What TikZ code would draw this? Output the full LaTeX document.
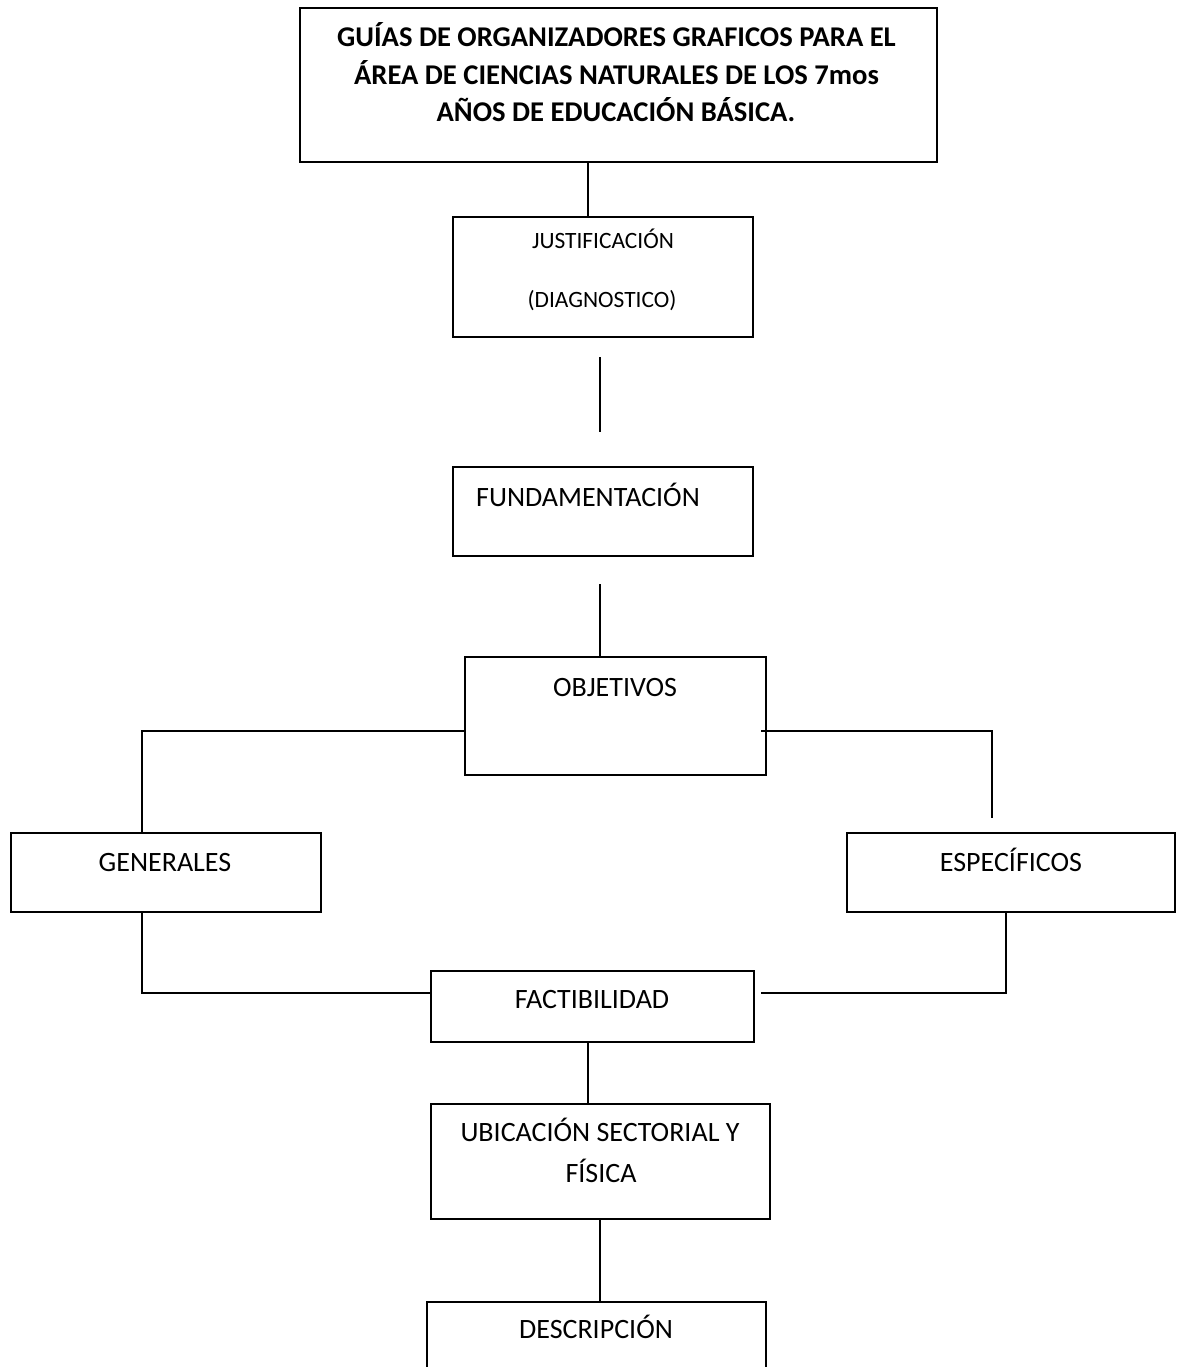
\documentclass[tikz,border=0pt]{standalone}
\usepackage{fontspec}
\setmainfont{Carlito}
\usetikzlibrary{fit}
\begin{document}
\begin{tikzpicture}[x=0.5pt,y=-0.5pt,
  box/.style={draw, line width=1pt, inner sep=0pt, fit={#1}},
  wire/.style={line width=1pt},
  lbl/.style={font=\fontsize{14}{20}\selectfont, inner sep=0pt, anchor=base},
  small/.style={font=\fontsize{11.7}{14}\selectfont, inner sep=0pt, anchor=base},
  head/.style={font=\fontsize{14.3}{20}\selectfont\bfseries, inner sep=0pt, anchor=base}]
\useasboundingbox (0,0) rectangle (1183,1367);
\clip (0,0) rectangle (1183,1367);

% boxes
\node[box={(300,8) (937,162)}]    (title) {};
\node[box={(453,217) (753,337)}]  (just)  {};
\node[box={(453,467) (753,556)}]  (fund)  {};
\node[box={(465,657) (766,775)}]  (obj)   {};
\node[box={(11,833) (321,912)}]   (gen)   {};
\node[box={(847,833) (1175,912)}] (esp)   {};
\node[box={(431,971) (754,1042)}] (fact)  {};
\node[box={(431,1104) (770,1219)}] (ubic) {};
\node[box={(427,1302) (766,1390)}] (desc) {};

% texts
\node[head] (t1) at (616.5,46)  {GUÍAS DE ORGANIZADORES GRAFICOS PARA EL};
\node[head] (t2) at (616.5,84)  {ÁREA DE CIENCIAS NATURALES DE LOS 7mos};
\node[head] (t3) at (616,121) {AÑOS DE EDUCACIÓN BÁSICA.};
\node[small] (j1) at (603,248) {JUSTIFICACIÓN};
\node[small] (j2) at (602,307) {(DIAGNOSTICO)};
\node[lbl] (fu) at (588,506)  {FUNDAMENTACIÓN};
\node[lbl] (ob) at (615,696)  {OBJETIVOS};
\node[lbl] (ge) at (165,871)  {GENERALES};
\node[lbl] (es) at (1011,871) {ESPECÍFICOS};
\node[lbl] (fa) at (592,1008) {FACTIBILIDAD};
\node[lbl] (u1) at (600,1141) {UBICACIÓN SECTORIAL Y};
\node[lbl] (u2) at (601,1182) {FÍSICA};
\node[lbl] (de) at (596,1338) {DESCRIPCIÓN};

% connector anchors
\coordinate (xa) at (588,0);
\coordinate (xb) at (600,0);
\coordinate (gx) at (142,0);
\coordinate (ex) at (1006,0);
\coordinate (ol) at (0,731);
\coordinate (fl) at (0,993);
\coordinate (s1) at (600,357);
\coordinate (s2) at (600,432);
\coordinate (s3) at (600,584);
\coordinate (er) at (992,818);
\coordinate (ol2) at (761,731);
\coordinate (fr) at (761,993);

% connectors
\draw[wire] (title.south -| xa) -- (just.north -| xa);
\draw[wire] (s1) -- (s2);
\draw[wire] (s3) -- (obj.north -| s3);
\draw[wire] (obj.west |- ol) -| ([yshift=-1pt]gen.north -| gx);
\draw[wire] (ol2) -| (er);
\draw[wire] ([yshift=1pt]gen.south -| gx) |- (fact.west |- fl);
\draw[wire] ([yshift=1pt]esp.south -| ex) |- (fr);
\draw[wire] (fact.south -| xa) -- (ubic.north -| xa);
\draw[wire] (ubic.south -| xb) -- (desc.north -| xb);
\end{tikzpicture}
\end{document}
